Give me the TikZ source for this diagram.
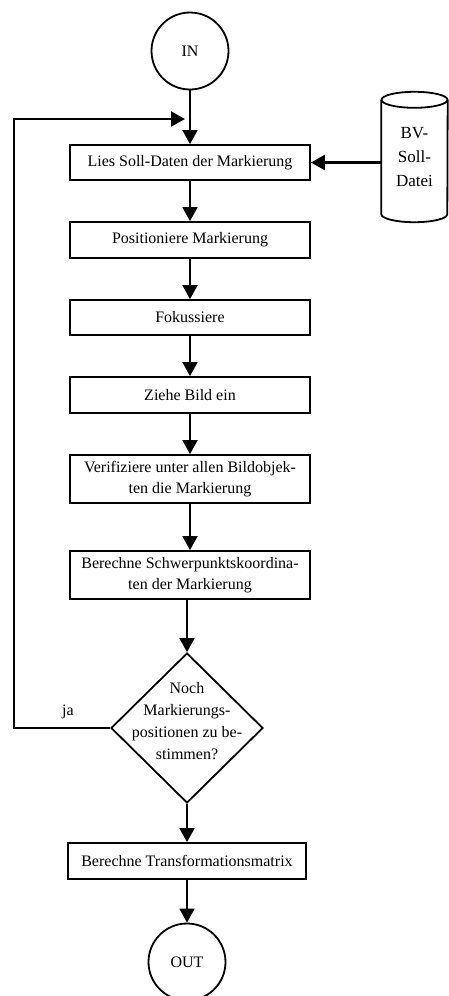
\documentclass[tikz,border=0pt]{standalone}
\usepackage{fontspec}
\setmainfont{Liberation Serif}
\usetikzlibrary{arrows.meta,shapes.geometric}
\begin{document}
\begin{tikzpicture}[x=1pt,y=-1pt,
  txtfont/.style={font=\fontsize{16}{21}\selectfont},
  stepbox/.style={draw, line width=1.8pt, minimum width=240pt, inner sep=2pt, align=center, txtfont},
  term/.style={circle, draw, line width=1.8pt, minimum size=77pt, inner sep=0pt, txtfont},
  decision/.style={diamond, draw, line width=1.8pt, minimum width=152pt, minimum height=150pt, inner sep=0pt},
  lbl/.style={inner sep=0pt, align=center, txtfont},
  arr/.style={line width=1.7pt, -{Triangle[length=14pt,width=15pt]}},
  outline/.style={line width=1.8pt}]
\useasboundingbox (0,0) rectangle (448,996);

% main column
\node[term] (in) at (190,51) {IN};
\node[stepbox, minimum height=35pt] (b1) at (190,162.5) {Lies Soll-Daten der Markierung};
\node[stepbox, minimum height=36pt] (b2) at (190,240) {Positioniere Markierung};
\node[stepbox, minimum height=35pt] (b3) at (190,317.5) {Fokussiere};
\node[stepbox, minimum height=36pt] (b4) at (190,395) {Ziehe Bild ein};
\node[stepbox, minimum height=48pt] (b5) at (190,479) {Verifiziere unter allen Bildobjek-\\ten die Markierung};
\node[stepbox, minimum height=48pt] (b6) at (190,575) {Berechne Schwerpunktskoordina-\\ten der Markierung};
\node[decision] (d) at (187,728) {};
\node[lbl, font=\fontsize{16}{22}\selectfont] (dq) at ([yshift=7pt]d.center) {Noch\\Markierungs-\\positionen zu be-\\stimmen?};
\node[stepbox, minimum height=36pt, minimum width=238pt] (b7) at (187,861) {Berechne Transformationsmatrix};
\node[term] (out) at (187,962) {OUT};

% data file
\node[lbl, font=\fontsize{17}{24}\selectfont, minimum width=66pt, minimum height=130pt] (db) at (414.5,157) {BV-\\Soll-\\Datei};
\draw[outline] ([yshift=-8pt]db.north west) -- ([yshift=8pt]db.south west)
  arc[start angle=180, end angle=360, x radius=33pt, y radius=8pt]
  -- ([yshift=-8pt]db.north east);
\draw[outline] ([yshift=-8pt]db.north) ellipse[x radius=33pt, y radius=8pt];

% flow
\draw[arr] (in.south) -- (b1.north);
\draw[arr, line width=2.2pt] (db.west |- b1.east) -- (b1.east);
\draw[arr] (b1.south) -- (b2.north);
\draw[arr] (b2.south) -- (b3.north);
\draw[arr] (b3.south) -- (b4.north);
\draw[arr] (b4.south) -- (b5.north);
\draw[arr] (b5.south) -- (b6.north);
\draw[arr] (b6.south -| d.north) -- (d.north);
\draw[arr] (d.south) -- (b7.north);
\draw[arr] (b7.south) -- (out.north);

% loop back
\coordinate (lc) at (14,119);
\coordinate (le) at (185,119);
\draw[arr, line width=2pt] (d.west) -| (lc) -- (le);
\node[lbl] (ja) at (68,712) {ja};
\end{tikzpicture}
\end{document}
